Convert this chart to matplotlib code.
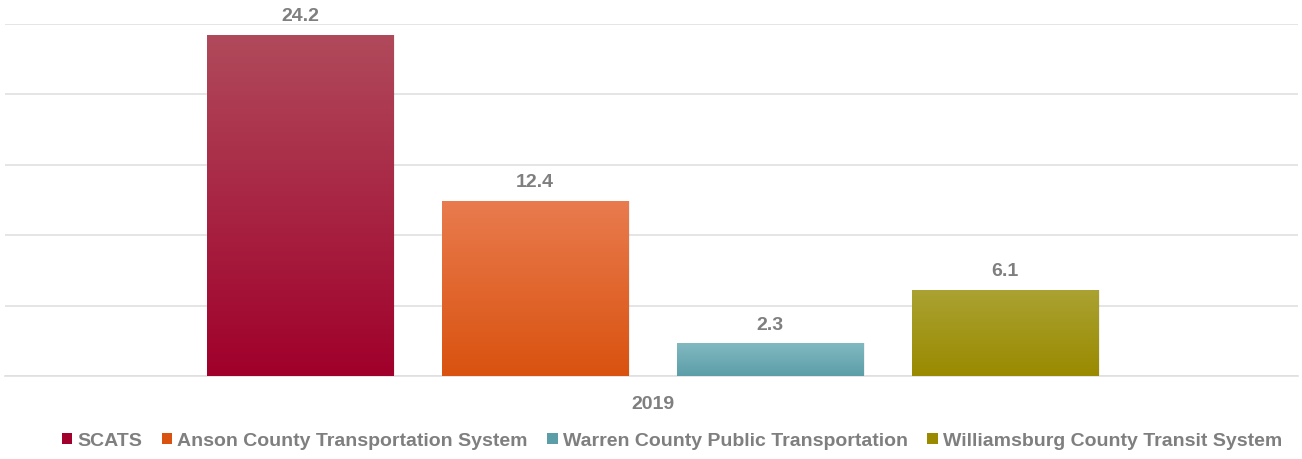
import matplotlib
matplotlib.use("Agg")
import matplotlib.pyplot as plt
import numpy as np
from matplotlib.patches import Patch, Rectangle
from matplotlib.colors import LinearSegmentedColormap

plt.rcParams['font.family'] = ['Liberation Sans', 'DejaVu Sans']

category = "2019"
series = ["SCATS", "Anson County Transportation System",
          "Warren County Public Transportation", "Williamsburg County Transit System"]
values = [24.2, 12.4, 2.3, 6.1]
top_colors = ["#b04a5b", "#e97b4e", "#82b9c1", "#aaa232"]
bottom_colors = ["#a0002b", "#d9520f", "#5b9ea8", "#9a8a00"]

W, H = 1302, 460
fig = plt.figure(figsize=(W/100, H/100), dpi=100)
ax = fig.add_axes([5/W, 83/H, (1298-5)/W, (377-25)/H])

width = 186/235
offsets = np.arange(len(series)) - (len(series)-1)/2
ymax = 25
for i, (name, v) in enumerate(zip(series, values)):
    x0 = offsets[i] - width/2
    # subtle shadow
    ax.add_patch(Rectangle((x0+0.008, 0), width, v+0.04, color="#000000", alpha=0.06, lw=0, zorder=2))
    cmap = LinearSegmentedColormap.from_list("g", [bottom_colors[i], top_colors[i]])
    grad = np.linspace(0, 1, 256).reshape(-1, 1)
    ax.imshow(grad, extent=(x0, x0+width, 0, v), origin="lower", aspect="auto",
              cmap=cmap, zorder=3, interpolation="bilinear")
    ax.annotate(f"{v:.1f}", (offsets[i], v), xytext=(0, 8), textcoords="offset points",
                ha="center", va="bottom", fontsize=14, fontweight="bold", color="#7f7f7f", zorder=5)

ax.set_xlim(-2.755, 2.747)
ax.set_ylim(0, ymax)
ax.set_yticks(np.arange(0, 26, 5))
ax.yaxis.grid(True, color="#e0e0e0", lw=1.2)
ax.set_axisbelow(True)
ax.tick_params(axis="y", left=False, labelleft=False)
ax.set_xticks([0])
ax.set_xticklabels([category], fontsize=14, fontweight="bold", color="#7f7f7f")
ax.tick_params(axis="x", bottom=False, pad=10)
for s in ["top", "right", "left"]:
    ax.spines[s].set_visible(False)
ax.spines["bottom"].set_color("#e0e0e0")
ax.spines["bottom"].set_linewidth(1.2)

handles = [Patch(facecolor=bottom_colors[i], edgecolor="none") for i in range(len(series))]
fig.legend(handles, series, loc="center", bbox_to_anchor=(0.516, 18/H), ncol=4, frameon=False,
           handlelength=0.55, handleheight=0.55, handletextpad=0.25, columnspacing=1.0,
           prop={"size": 14, "weight": "bold"}, labelcolor="#7f7f7f")

fig.savefig("out.png", dpi=100)
